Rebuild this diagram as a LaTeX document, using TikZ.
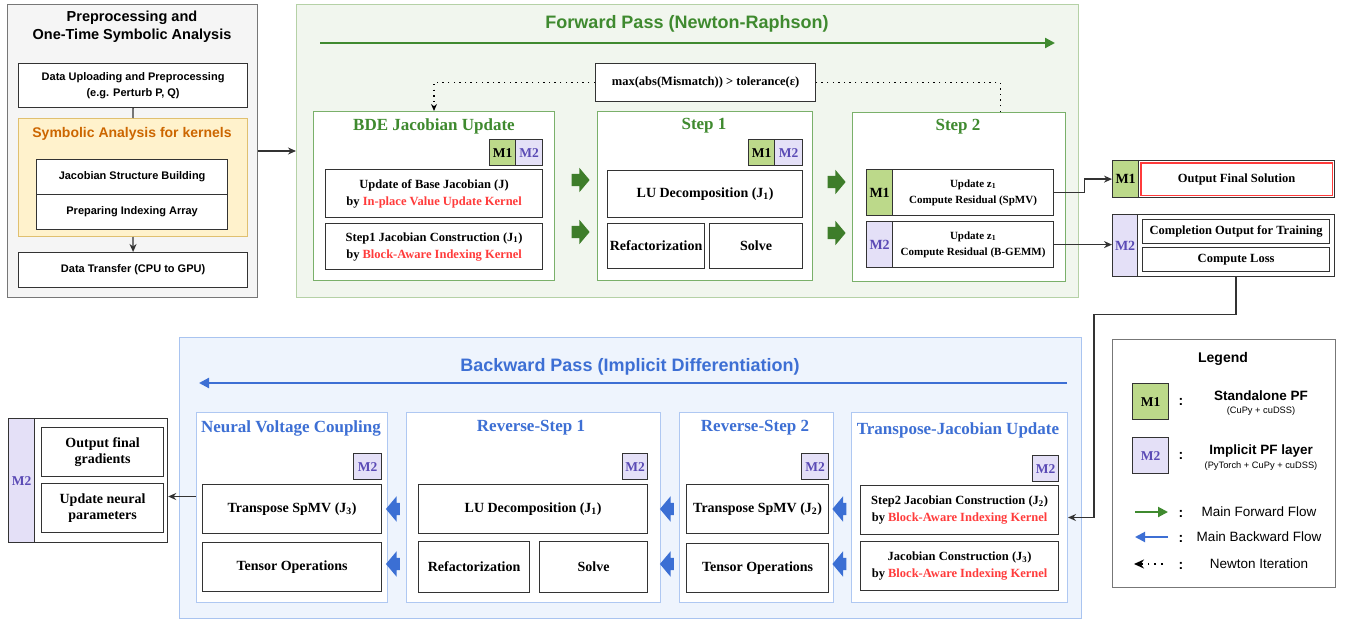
\documentclass[tikz,border=0pt]{standalone}
\usepackage{fontspec}
\setmainfont{Liberation Serif}
\setsansfont{Liberation Sans}
\usetikzlibrary{arrows.meta,shapes.arrows}

\definecolor{gfill}{HTML}{F5F5F5}
\definecolor{gline}{HTML}{777777}
\definecolor{kline}{HTML}{333333}
\definecolor{yfill}{HTML}{FFF2CC}
\definecolor{yline}{HTML}{E0C070}
\definecolor{korange}{HTML}{CC6600}
\definecolor{fwdfill}{HTML}{F1F6EE}
\definecolor{fwdline}{HTML}{B5D1A6}
\definecolor{fgreen}{HTML}{3F8A2F}
\definecolor{subgreen}{HTML}{7AB06A}
\definecolor{garr}{HTML}{3E7D2A}
\definecolor{bwdfill}{HTML}{EEF4FD}
\definecolor{bwdline}{HTML}{A9C4F0}
\definecolor{bblue}{HTML}{3D6FD4}
\definecolor{subblue}{HTML}{AFC8F2}
\definecolor{barr}{HTML}{3B6FD4}
\definecolor{monefill}{HTML}{BCD98A}
\definecolor{mtwofill}{HTML}{E4E0F7}
\definecolor{mtwotext}{HTML}{5A4AB5}
\definecolor{kred}{HTML}{FF3B3B}

\tikzset{
  blk/.style={anchor=north west, inner sep=1pt, align=center},
  wh/.style 2 args={minimum width=#1, minimum height=#2},
  box/.style={blk, draw=kline, fill=white, line width=1.2pt, font=\bfseries\fontsize{14}{16}\selectfont},
  dbox/.style={box, font=\bfseries\fontsize{12.5}{17}\selectfont},
  sbox/.style={blk, draw=kline, fill=white, line width=1.2pt, font=\sffamily\bfseries\fontsize{11}{16}\selectfont},
  mone/.style={blk, draw=kline, fill=monefill, line width=1.2pt, font=\bfseries\fontsize{13.5}{14}\selectfont},
  mtwo/.style={blk, draw=kline, fill=mtwofill, text=mtwotext, line width=1.2pt, font=\bfseries\fontsize{13.5}{14}\selectfont},
  fwdsub/.style={blk, draw=subgreen, fill=white, line width=1pt},
  bwdsub/.style={blk, draw=subblue, fill=white, line width=1pt},
  gtitle/.style={font=\bfseries\fontsize{17}{17}\selectfont, text=fgreen},
  btitle/.style={font=\bfseries\fontsize{17}{17}\selectfont, text=bblue},
  garrow/.style={single arrow, fill=garr, inner xsep=0pt, inner ysep=6pt, single arrow head extend=6pt, single arrow tip angle=100, minimum height=18pt},
  barrow/.style={single arrow, shape border rotate=180, fill=barr, inner xsep=0pt, inner ysep=6pt, single arrow head extend=6.5pt, single arrow tip angle=100, minimum height=14pt},
  conn/.style={draw=kline, line width=1.3pt, -{Stealth[length=8pt,width=7pt]}},
  newtonline/.style={line width=1.4pt, dash pattern=on 1.4pt off 4.2pt},
  newton/.style={newtonline, -{Stealth[length=7pt,width=6pt]}},
  flowg/.style={draw=fgreen, line width=2.2pt, -{Triangle[length=10pt,width=10pt]}},
  flowb/.style={draw=bblue, line width=2.2pt, -{Triangle[length=10pt,width=10pt]}},
  stitle/.style={font=\sffamily\bfseries\fontsize{18}{18}\selectfont},
  legtxt/.style={font=\sffamily\fontsize{13.5}{14}\selectfont},
}

\begin{document}
\begin{tikzpicture}[x=1pt,y=-1pt]
\useasboundingbox (0,0) rectangle (1348,620);

% preprocessing
\node[blk, draw=gline, fill=gfill, line width=1pt, wh={250}{293}] (pre) at (7,4) {};
\node[font=\sffamily\bfseries\fontsize{14.5}{18}\selectfont, align=center] (pretitle) at (132,27) {Preprocessing and\\One-Time Symbolic Analysis};
\node[sbox, wh={229}{44}] (upl) at (18,63) {Data Uploading and Preprocessing\\(e.g. Perturb P, Q)};
\node[blk, draw=yline, fill=yfill, line width=1pt, wh={229}{118}] (sym) at (18,118) {};
\node[font=\sffamily\bfseries\fontsize{14}{14}\selectfont, text=korange] (symtitle) at (132,134) {Symbolic Analysis for kernels};
\node[sbox, wh={191}{35}] (jsb) at (36,159) {Jacobian Structure Building};
\node[sbox, wh={191}{35}] (pia) at (36,194) {Preparing Indexing Array};
\node[sbox, wh={229}{35}] (xfer) at (18,252) {Data Transfer (CPU to GPU)};
\draw[draw=kline, line width=1.3pt] (upl.south) -- (sym.north);
\draw[conn] (sym.south) -- (xfer.north);

% forward pass
\node[blk, draw=fwdline, fill=fwdfill, line width=1pt, wh={782}{293}] (fwd) at (296,4) {};
\node[stitle, text=fgreen] (fwdtitle) at (687,24) {Forward Pass (Newton-Raphson)};
\coordinate (fa) at (320,43);
\coordinate (fb) at (1055,43);
\draw[flowg] (fa) -- (fb);
\draw[conn] (pre.east) -- (fwd.west);
\node[box, font=\bfseries\fontsize{12.5}{14}\selectfont, wh={220}{38}] (mism) at (595,63) {max(abs(Mismatch)) > tolerance(ε)};

\node[fwdsub, wh={241}{169}] (bde) at (313,111) {};
\node[gtitle] (bdetitle) at (434,126) {BDE Jacobian Update};
\node[mone, wh={26}{26}] (bdem1) at (489,139) {M1};
\node[mtwo, wh={27}{26}] (bdem2) at (515,139) {M2};
\node[dbox, wh={217}{48}] (upd) at (325,169) {Update of Base Jacobian (J)\\by \textcolor{kred}{In-place Value Update Kernel}};
\node[dbox, wh={217}{46}] (s1c) at (325,223) {Step1 Jacobian Construction (J\textsubscript{1})\\by \textcolor{kred}{Block-Aware Indexing Kernel}};

\node[fwdsub, wh={215}{169}] (stp1) at (597,111) {};
\node[gtitle] (stp1title) at (704,126) {Step 1};
\node[mone, wh={26}{26}] (stp1m1) at (748,139) {M1};
\node[mtwo, wh={28}{26}] (stp1m2) at (774,139) {M2};
\node[box, wh={195}{47}] (lu) at (607,170) {LU Decomposition (J\textsubscript{1})};
\node[box, wh={97}{45}] (refac) at (607,223) {Refactorization};
\node[box, wh={93}{45}] (solve) at (709,223) {Solve};

\node[fwdsub, wh={213}{169}] (stp2) at (852,112) {};
\node[gtitle] (stp2title) at (958,127) {Step 2};
\node[mone, wh={26}{46}, font=\bfseries\fontsize{14}{14}\selectfont] (r1m) at (866,169) {M1};
\node[box, wh={161}{46}, font=\bfseries\fontsize{11}{16}\selectfont] (r1) at (892,169) {Update z\textsubscript{1}\\Compute Residual (SpMV)};
\node[mtwo, wh={26}{46}, font=\bfseries\fontsize{14}{14}\selectfont] (r2m) at (866,221) {M2};
\node[box, wh={161}{46}, font=\bfseries\fontsize{11}{16}\selectfont] (r2) at (892,221) {Update z\textsubscript{1}\\Compute Residual (B-GEMM)};

\node[garrow] (ga1) at (578,180) {};
\node[garrow] (ga2) at (578,232) {};
\node[garrow] (ga3) at (834,182) {};
\node[garrow] (ga4) at (834,233) {};

\draw[newtonline] ([xshift=41.5pt]stp2.north) |- (mism.east);
\draw[newton] (mism.west) -| (bde.north);

% outputs
\node[mone, wh={26}{37}, font=\bfseries\fontsize{14}{14}\selectfont] (om1) at (1112,160) {M1};
\node[box, wh={196}{37}, font=\bfseries\fontsize{12.5}{14}\selectfont] (ofs) at (1138,160) {Output Final Solution};
\draw[kred, line width=1.1pt] ([shift={(3,3)}]ofs.north west) rectangle ([shift={(-3,-3)}]ofs.south east);
\node[mtwo, wh={25}{62}, font=\bfseries\fontsize{14}{14}\selectfont] (om2) at (1112,214) {M2};
\node[blk, draw=kline, fill=white, line width=1.2pt, wh={197}{62}] (o2out) at (1137,214) {};
\node[dbox, wh={187}{24}, font=\bfseries\fontsize{12.5}{14}\selectfont] (cot) at (1142,219) {Completion Output for Training};
\node[dbox, wh={187}{24}, font=\bfseries\fontsize{12.5}{14}\selectfont] (closs) at (1142,247) {Compute Loss};
\draw[conn] (r1.east) -- ++(30,0) |- (om1.west);
\draw[conn] (r2.east) -- (r2.east -| om2.west);

% backward pass
\node[blk, draw=bwdline, fill=bwdfill, line width=1pt, wh={902}{281}] (bwd) at (179,337) {};
\node[stitle, text=bblue] (bwdtitle) at (630,367) {Backward Pass (Implicit Differentiation)};
\coordinate (ba) at (1067,383);
\coordinate (bb) at (199,383);
\draw[flowb] (ba) -- (bb);

\node[bwdsub, wh={191}{190}] (nvc) at (196,412) {};
\node[btitle] (nvctitle) at (291,428) {Neural Voltage Coupling};
\node[mtwo, wh={28}{26}] (nvcm2) at (353,453) {M2};
\node[box, wh={179}{49}] (tsp3) at (202,484) {Transpose SpMV (J\textsubscript{3})};
\node[box, wh={179}{49}] (tens1) at (202,542) {Tensor Operations};

\node[bwdsub, wh={254}{190}] (rs1) at (406,412) {};
\node[btitle] (rs1title) at (531,428) {Reverse-Step 1};
\node[mtwo, wh={25}{26}] (rs1m2) at (622,453) {M2};
\node[box, wh={229}{49}] (lu2) at (418,484) {LU Decomposition (J\textsubscript{1})};
\node[box, wh={111}{51}] (refac2) at (418,541) {Refactorization};
\node[box, wh={108}{51}] (solve2) at (539,541) {Solve};

\node[bwdsub, wh={154}{190}] (rs2) at (679,412) {};
\node[btitle] (rs2title) at (755,428) {Reverse-Step 2};
\node[mtwo, wh={27}{26}] (rs2m2) at (801,453) {M2};
\node[box, wh={142}{49}] (tsp2) at (686,484) {Transpose SpMV (J\textsubscript{2})};
\node[box, wh={142}{49}] (tens2) at (686,543) {Tensor Operations};

\node[bwdsub, wh={216}{190}] (tju) at (851,412) {};
\node[btitle] (tjutitle) at (958,430) {Transpose-Jacobian Update};
\node[mtwo, wh={26}{26}] (tjum2) at (1032,455) {M2};
\node[dbox, wh={198}{49}] (s2jc) at (860,485) {Step2 Jacobian Construction (J\textsubscript{2})\\by \textcolor{kred}{Block-Aware Indexing Kernel}};
\node[dbox, wh={198}{49}] (j3c) at (860,541) {Jacobian Construction (J\textsubscript{3})\\by \textcolor{kred}{Block-Aware Indexing Kernel}};

\node[barrow] (ba1) at (395.5,509) {};
\node[barrow] (ba2) at (395.5,564) {};
\node[barrow] (ba3) at (669.5,509) {};
\node[barrow] (ba4) at (669.5,564) {};
\node[barrow] (ba5) at (842,509) {};
\node[barrow] (ba6) at (842,564) {};

\draw[conn] (o2out.south) -- ++(0,37) -| ([xshift=26pt,yshift=-10pt]tju.east) -- ([yshift=-10pt]tju.east);

% final gradients
\node[blk, draw=kline, fill=white, line width=1.2pt, wh={159}{124}] (lout) at (8,418) {};
\node[mtwo, wh={26}{124}] (loutm) at (8,418) {M2};
\node[box, wh={122}{49}] (ofg) at (41,427) {Output final\\gradients};
\node[box, wh={122}{49}] (unp) at (41,483) {Update neural\\parameters};
\coordinate (lo) at ([yshift=11pt]nvc.west);
\draw[conn] (lo) -- (lo -| lout.east);

% legend
\node[blk, draw=gline, fill=white, line width=1pt, wh={223}{248}] (leg) at (1112,339) {};
\node[font=\sffamily\bfseries\fontsize{14}{14}\selectfont] (legtitle) at (1223,359) {Legend};
\node[mone, wh={36}{36}] (legm1) at (1132,383) {M1};
\node[font=\sffamily\bfseries\fontsize{14}{14}\selectfont] (c1) at (1181,402) {:};
\node[font=\sffamily\bfseries\fontsize{13.5}{14}\selectfont] (l1a) at (1261,396) {Standalone PF};
\node[font=\sffamily\fontsize{9.3}{10}\selectfont] (l1b) at (1261,411) {(CuPy + cuDSS)};
\node[mtwo, wh={36}{36}] (legm2) at (1132,437) {M2};
\node[font=\sffamily\bfseries\fontsize{14}{14}\selectfont] (c2) at (1181,456) {:};
\node[font=\sffamily\bfseries\fontsize{13.5}{14}\selectfont] (l2a) at (1261,451) {Implicit PF layer};
\node[font=\sffamily\fontsize{9.3}{10}\selectfont] (l2b) at (1261,466) {(PyTorch + CuPy + cuDSS)};
\coordinate (lg1) at (1135,512);
\coordinate (lg2) at (1168,512);
\draw[flowg, line width=2pt] (lg1) -- (lg2);
\node[font=\sffamily\bfseries\fontsize{14}{14}\selectfont] (c3) at (1181,514) {:};
\node[legtxt] (l3) at (1259,512) {Main Forward Flow};
\coordinate (lb1) at (1168,537);
\coordinate (lb2) at (1135,537);
\draw[flowb, line width=2pt] (lb1) -- (lb2);
\node[font=\sffamily\bfseries\fontsize{14}{14}\selectfont] (c4) at (1181,539) {:};
\node[legtxt] (l4) at (1259,537) {Main Backward Flow};
\coordinate (ln1) at (1163,564);
\coordinate (ln2) at (1134,564);
\draw[newtonline, line width=1.8pt, dash pattern=on 1.8pt off 5pt, -{Stealth[length=10pt,width=9pt]}] (ln1) -- (ln2);
\node[font=\sffamily\bfseries\fontsize{14}{14}\selectfont] (c5) at (1181,566) {:};
\node[legtxt] (l5) at (1259,564) {Newton Iteration};
\end{tikzpicture}
\end{document}
